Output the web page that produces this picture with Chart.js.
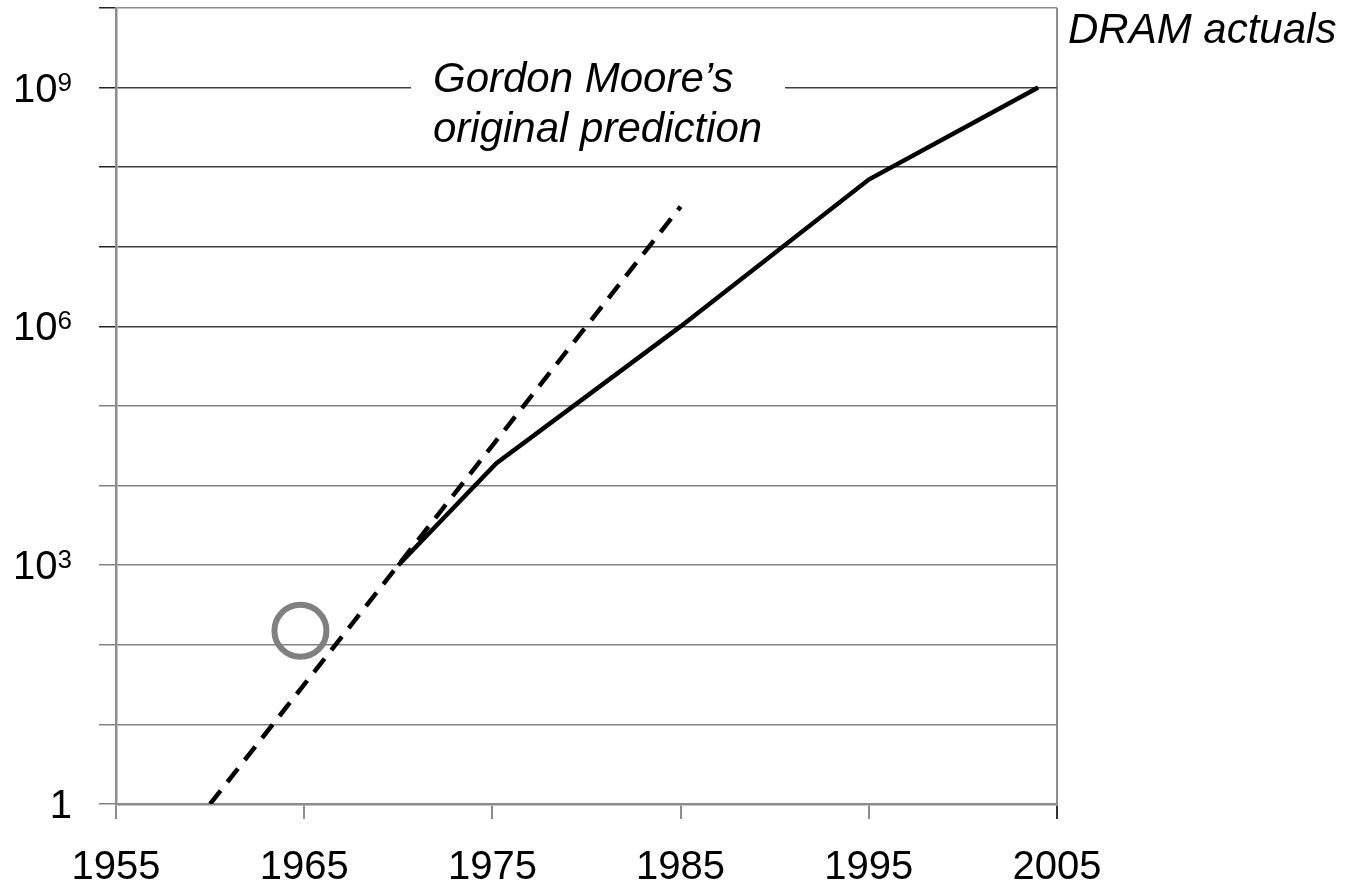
<!DOCTYPE html>
<html>
<head>
<meta charset="utf-8">
<title>Moore's law vs DRAM actuals</title>
<script src="https://cdn.jsdelivr.net/npm/chart.js@4.4.1/dist/chart.umd.min.js"></script>
<style>
  html, body { margin: 0; padding: 0; background: #fff; }
  #wrap { width: 1352px; height: 888px; }
</style>
</head>
<body>
<div id="wrap"><canvas id="chart" width="1352" height="888"></canvas></div>
<script>
// --- data ---
const xTickYears = [1955, 1965, 1975, 1985, 1995, 2005];
const yTickValues = [1, 1e1, 1e2, 1e3, 1e4, 1e5, 1e6, 1e7, 1e8, 1e9, 1e10];
// y labels as base + superscript exponent ('10' + '3' -> 10³)
const yTickBase = ['1', '', '', '10', '', '', '10', '', '', '10', ''];
const yTickExp = ['', '', '', '3', '', '', '6', '', '', '9', ''];

// Gordon Moore's original prediction (dashed)
const predictionYears = [1960, 1985];
const predictionValues = [1, 3.2e7];

// DRAM actuals (solid)
const dramYears = [1970, 1975.2, 1985, 1995, 2004];
const dramValues = [1e3, 1.9e4, 1e6, 7e7, 1e9];

// Moore's 1965 data point (grey circle)
const mooreYears = [1964.8];
const mooreValues = [150];

const FONT = "'Liberation Sans', Arial, sans-serif";

function toPoints(xs, ys) {
    return xs.map((x, i) => ({ x: x, y: ys[i] }));
}

// captions + y tick labels with real superscripts
const labelsPlugin = {
    id: 'labels',
    beforeDatasetsDraw(chart) {
        const ctx = chart.ctx;
        ctx.save();
        // white box hiding the 10^9 gridline behind the caption
        ctx.fillStyle = '#fff';
        ctx.fillRect(411, 48, 374, 100);
        ctx.fillStyle = '#000';
        ctx.font = 'italic 42px ' + FONT;
        ctx.textAlign = 'left';
        ctx.textBaseline = 'alphabetic';
        ctx.fillText('Gordon Moore’s', 433, 92);
        ctx.fillText('original prediction', 433, 142);
        ctx.fillText('DRAM actuals', 1068, 43);
        ctx.restore();
    },
    afterDraw(chart) {
        const ctx = chart.ctx;
        const yScale = chart.scales.y;
        const right = chart.chartArea.left - 44;
        ctx.save();
        ctx.fillStyle = '#000';
        ctx.textBaseline = 'alphabetic';
        ctx.textAlign = 'right';
        yTickValues.forEach((v, i) => {
            if (!yTickBase[i]) return;
            const py = yScale.getPixelForValue(v);
            const baseline = py + 14;
            let x = right;
            if (yTickExp[i]) {
                ctx.font = '26px ' + FONT;
                ctx.fillText(yTickExp[i], x, baseline - 11);
                x -= ctx.measureText(yTickExp[i]).width;
            }
            ctx.font = '40px ' + FONT;
            ctx.fillText(yTickBase[i], x, baseline);
        });
        ctx.restore();
    }
};

new Chart(document.getElementById('chart'), {
    type: 'line',
    data: {
        datasets: [
            {
                label: 'Prediction',
                data: toPoints(predictionYears, predictionValues),
                borderColor: '#000',
                borderWidth: 4.5,
                borderDash: [17, 11],
                pointRadius: 0,
                fill: false,
                tension: 0
            },
            {
                label: 'DRAM actuals',
                data: toPoints(dramYears, dramValues),
                borderColor: '#000',
                borderWidth: 4.5,
                pointRadius: 0,
                fill: false,
                tension: 0
            },
            {
                label: 'Moore 1965',
                data: toPoints(mooreYears, mooreValues),
                showLine: false,
                pointRadius: 26,
                pointBorderWidth: 6,
                pointBorderColor: '#808080',
                pointBackgroundColor: 'rgba(0,0,0,0)'
            }
        ]
    },
    options: {
        responsive: false,
        animation: false,
        devicePixelRatio: 1,
        layout: {
            autoPadding: false,
            padding: { left: 0, right: 295, top: 8, bottom: 0 }
        },
        plugins: {
            legend: { display: false },
            tooltip: { enabled: false }
        },
        scales: {
            x: {
                type: 'linear',
                min: 1955,
                max: 2005,
                afterBuildTicks: s => { s.ticks = xTickYears.map(v => ({ value: v })); },
                afterFit: s => { s.height = 84; },
                ticks: {
                    autoSkip: false,
                    maxRotation: 0,
                    padding: 25,
                    color: '#000',
                    font: { family: FONT, size: 40 },
                    callback: v => String(v)
                },
                grid: {
                    color: c => c.tick && c.tick.value === 2005 ? '#8c8c8c' : 'rgba(0,0,0,0)',
                    lineWidth: 2,
                    tickLength: 15,
                    tickColor: c => c.tick && c.tick.value === 2005 ? '#333' : '#8c8c8c',
                    tickWidth: 2
                },
                border: { color: '#8c8c8c', width: 2.5 }
            },
            y: {
                type: 'logarithmic',
                min: 1,
                max: 1e10,
                afterBuildTicks: s => { s.ticks = yTickValues.map(v => ({ value: v })); },
                afterFit: s => { s.width = 116; },
                ticks: { display: false },
                grid: {
                    color: c => {
                        const v = c.tick ? c.tick.value : 0;
                        if (v >= 1e10) return '#8c8c8c';
                        return v >= 1e6 ? '#404040' : '#808080';
                    },
                    lineWidth: 1.5,
                    tickLength: 17,
                    tickColor: c => {
                        const v = c.tick ? c.tick.value : 0;
                        return v >= 1e6 ? '#222' : '#808080';
                    }
                },
                border: { color: '#8c8c8c', width: 2.5 }
            }
        }
    },
    plugins: [labelsPlugin]
});
</script>
</body>
</html>
